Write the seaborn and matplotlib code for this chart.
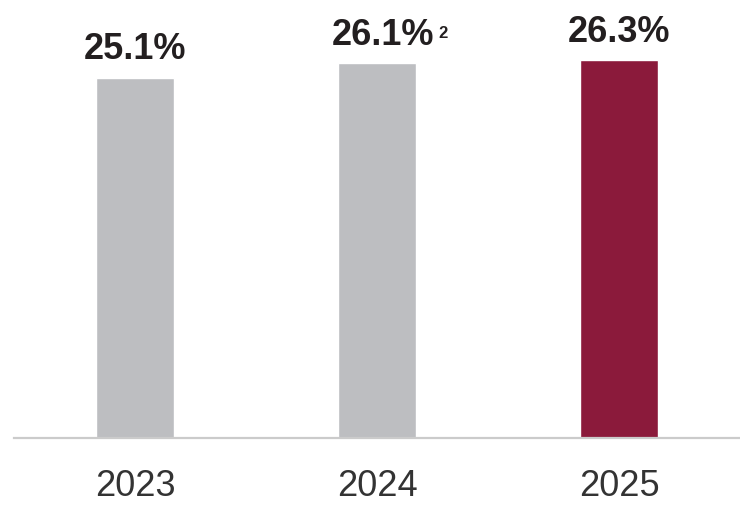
import matplotlib
matplotlib.use("Agg")
import matplotlib.pyplot as plt
import pandas as pd
import seaborn as sns

years = ["2023", "2024", "2025"]
values = [25.1, 26.1, 26.3]
labels = ["25.1%", "26.1%", "26.3%"]
notes = ["", "2", ""]
bar_colors = ["#BDBEC1", "#BDBEC1", "#8B1A3B"]

df = pd.DataFrame({"year": years, "value": values})

sns.set_style("white")
plt.rcParams["font.family"] = ["Liberation Sans", "DejaVu Sans"]

fig = plt.figure(figsize=(7.4, 5.05), dpi=100)
ax = fig.add_axes([14 / 740, 67 / 505, 726 / 740, 438 / 505])

sns.barplot(data=df, x="year", y="value", hue="year", palette=bar_colors,
            legend=False, width=0.326, saturation=1, ax=ax)

ax.set_ylim(0, 30.5)
ax.set_xlim(-0.5, 2.5)
ax.set_xlabel("")
ax.set_ylabel("")
ax.set_yticks([])
sns.despine(ax=ax, left=True, top=True, right=True)
ax.spines["bottom"].set_color("#CBCBCB")
ax.spines["bottom"].set_linewidth(1.6)
ax.tick_params(axis="x", length=0, pad=22, labelsize=26, labelcolor="#333333")

for i, (v, lab, note) in enumerate(zip(values, labels, notes)):
    dx = 4 if note else 0
    t = ax.annotate(lab, xy=(i, v), xytext=(dx, 7.5), textcoords="offset points",
                    ha="center", va="bottom", fontsize=26, fontweight="bold",
                    color="#231F20")
    if note:
        ax.annotate(note, xy=(1, 1), xycoords=t, xytext=(3.5, -6),
                    textcoords="offset points", ha="left", va="top",
                    fontsize=12, fontweight="bold", color="#231F20")

fig.savefig("out.png", dpi=100)
